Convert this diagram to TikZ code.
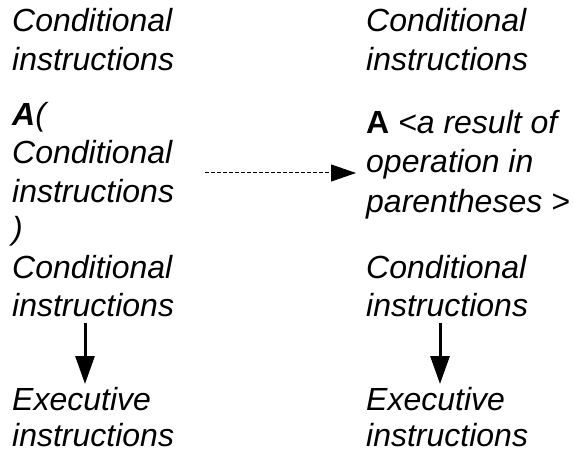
\documentclass[tikz,border=0pt]{standalone}
\usepackage{fontspec}
\setmainfont{Liberation Sans}
\usetikzlibrary{arrows.meta}
\begin{document}
\begin{tikzpicture}[x=1pt,y=-1pt,
  txt/.style={anchor=base west,inner sep=0pt,font=\fontsize{32}{38.5}\selectfont\itshape},
  flow/.style={line width=3pt,-{Triangle[length=28pt,width=19pt]}},
  mapto/.style={line width=1pt,dash pattern=on 4pt off 2pt,-{Triangle[length=25pt,width=17pt]}}]
\useasboundingbox (0,0) rectangle (574,452);
% left column
\node[txt] (l1) at (12,32) {Conditional};
\node[txt] (l2) at (12,71) {instructions};
\node[txt] (l3) at (12,125) {\textbf{A}(};
\node[txt] (l4) at (12,164) {Conditional};
\node[txt] (l5) at (12,202) {instructions};
\node[txt] (l6) at (12,240) {)};
\node[txt] (l7) at (12,278) {Conditional};
\node[txt] (l8) at (12,316) {instructions};
\node[txt] (l9) at (12,410) {Executive};
\node[txt] (l10) at (12,446) {instructions};
% right column
\node[txt] (r1) at (366,32) {Conditional};
\node[txt] (r2) at (366,71) {instructions};
\node[txt] (r3) at (366,134) {{\upshape\bfseries A} <a result of};
\node[txt] (r4) at (366,173) {operation in};
\node[txt] (r5) at (366,212) {parentheses >};
\node[txt] (r7) at (366,278) {Conditional};
\node[txt] (r8) at (366,316) {instructions};
\node[txt] (r9) at (366,410) {Executive};
\node[txt] (r10) at (366,446) {instructions};
% connectors
\coordinate (ls) at (85,323);
\coordinate (le) at (85,384);
\coordinate (rs) at (440,323);
\coordinate (re) at (440,384);
\draw[flow] (ls) -- (le);
\draw[flow] (rs) -- (re);
\coordinate (ds) at (205,173);
\coordinate (de) at (356,173);
\draw[mapto] (ds) -- (de);
\end{tikzpicture}
\end{document}
